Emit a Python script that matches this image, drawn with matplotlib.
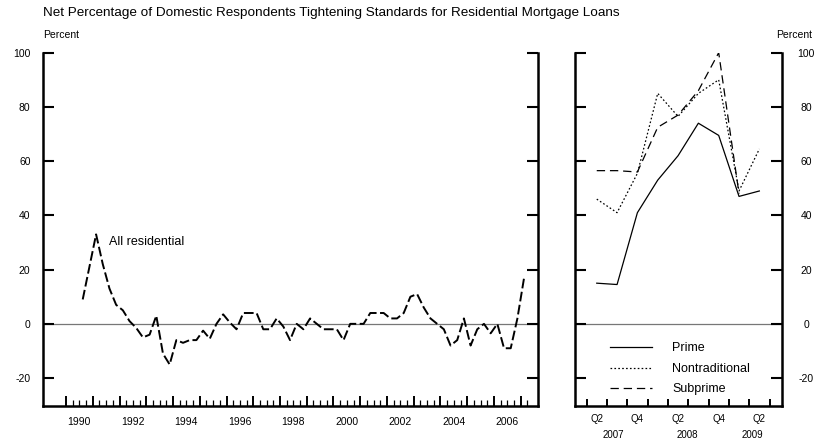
import numpy as np
import matplotlib
matplotlib.use('Agg')
import matplotlib.pyplot as plt
import matplotlib.transforms as mtransforms

plt.rcParams['font.family'] = ['Liberation Sans', 'DejaVu Sans']
plt.rcParams['axes.unicode_minus'] = False
plt.rcParams['lines.scale_dashes'] = False

# ---------- data ----------
# all residential, quarterly 1990 Q3 .. 2007 Q1
start_year, start_q = 1990, 3
all_resid = [9, 21, 33, 22, 13, 7, 5, 1, -1.5, -5,
             -4, 3, -11, -15, -6, -7, -6, -6, -2.5, -5.5,
             0, 3.5, 0.5, -2, 4, 4, 4, -2, -2, 2,
             -1, -6, 0, -2, 2, 0, -2, -2, -2, -6,
             0, 0, 0, 4, 4, 4, 2, 2, 4, 10,
             11, 6, 2, 0, -2, -8, -6, 2, -8, -2,
             0, -3.5, 0, -9, -9, 2, 17]

# recent detail, 2007 Q2 .. 2009 Q2
recent_q = ['Q2', 'Q3', 'Q4', 'Q1', 'Q2', 'Q3', 'Q4', 'Q1', 'Q2']
prime = [15, 14.5, 41, 53, 62, 74, 69.5, 47, 49]
nontrad = [46, 41, 55.5, 85, 76.5, 85, 90, 49, 64.5]
subprime = [56.5, 56.5, 56, 72.5, 77, 86, 100, 48, np.nan]

# quarter-centre positions
q_idx = np.arange(len(all_resid)) + (start_q - 1)
t_all = start_year + q_idx / 4.0 + 0.125
x_recent = np.arange(1, len(prime) + 1)   # 0 = 2007 Q1

W, H = 814, 443
fig = plt.figure(figsize=(W / 100, H / 100), dpi=100)

def px_axes(x0, x1, y0, y1):
    return fig.add_axes([x0 / W, 1 - y1 / H, (x1 - x0) / W, (y1 - y0) / H])

ax1 = px_axes(43, 538, 52.7, 406)
ax2 = px_axes(575, 781.7, 52.7, 406)

ylo, yhi = -30.3, 100
for ax in (ax1, ax2):
    ax.set_ylim(ylo, yhi)
    ax.spines['top'].set_visible(False)
    for s in ('left', 'right', 'bottom'):
        ax.spines[s].set_linewidth(1.8)
    ax.axhline(0, color='#777777', lw=0.9, zorder=1)
    ax.set_yticks(np.arange(-20, 101, 20))
    ax.tick_params(axis='y', which='both', direction='in', length=8, width=1.5,
                   left=True, right=True, labelsize=7.5)
    ax.tick_params(axis='x', which='both', direction='in', labelbottom=False)

# ---------- left panel ----------
ax1.plot(t_all, all_resid, color='black', lw=1.4, dashes=(7, 2.5))
ax1.set_xlim(1989.14, 2007.645)
ax1.set_xticks(np.arange(1990, 2008))
ax1.set_xticks(np.arange(1990, 2007.3, 0.25), minor=True)
ax1.tick_params(axis='x', which='major', length=7, width=1.4)
ax1.tick_params(axis='x', which='minor', length=4.5, width=0.9)
ax1.tick_params(axis='y', labelleft=True, labelright=False, pad=9)
tr1 = mtransforms.blended_transform_factory(ax1.transData, ax1.transAxes)
for yr in range(1990, 2007, 2):
    ax1.annotate(str(yr), xy=(yr + 0.5, 0), xycoords=tr1, xytext=(0, -11.3),
                 textcoords='offset points', ha='center', va='center', fontsize=7.5)
ax1.text(1991.61, 30.1, 'All residential', fontsize=9, ha='left', va='center')

# ---------- right panel ----------
ax2.plot(x_recent, prime, color='black', lw=0.9, label='Prime')
ax2.plot(x_recent, nontrad, color='black', lw=0.9, dashes=(1.2, 1.6), label='Nontraditional')
ax2.plot(x_recent, subprime, color='black', lw=0.9, dashes=(6, 3.5), label='Subprime')
ax2.set_xlim(-0.07, 10.1)
ax2.set_xticks(np.arange(0.5, 10, 1))
ax2.tick_params(axis='x', which='major', length=5, width=1.4)
ax2.tick_params(axis='y', labelleft=False, labelright=True, pad=17.5)
for lab in ax2.get_yticklabels():
    lab.set_horizontalalignment('center')
tr2 = mtransforms.blended_transform_factory(ax2.transData, ax2.transAxes)
for xi, q in zip(x_recent, recent_q):
    if q in ('Q2', 'Q4'):
        ax2.annotate(q, xy=(xi, 0), xycoords=tr2, xytext=(0, -9.6),
                     textcoords='offset points', ha='center', va='center', fontsize=7)
for yr, xp in zip(['2007', '2008', '2009'], [1.8, 5.48, 8.68]):
    ax2.annotate(yr, xy=(xp, 0), xycoords=tr2, xytext=(0, -20.9),
                 textcoords='offset points', ha='center', va='center', fontsize=7)

ax2.legend(loc='upper left', bbox_to_anchor=(0.169, 0.18), frameon=False,
           fontsize=9, handlelength=3.4, handletextpad=1.6, labelspacing=0.68,
           borderpad=0, borderaxespad=0)

# ---------- titles ----------
fig.text(43 / W, 1 - 13.3 / H, 'Net Percentage of Domestic Respondents Tightening Standards for Residential Mortgage Loans',
         fontsize=9.7, ha='left', va='center')
fig.text(43 / W, 1 - 35 / H, 'Percent', fontsize=7.5, ha='left', va='center')
fig.text(812 / W, 1 - 35 / H, 'Percent', fontsize=7.5, ha='right', va='center')

fig.savefig('out.png', dpi=100)
